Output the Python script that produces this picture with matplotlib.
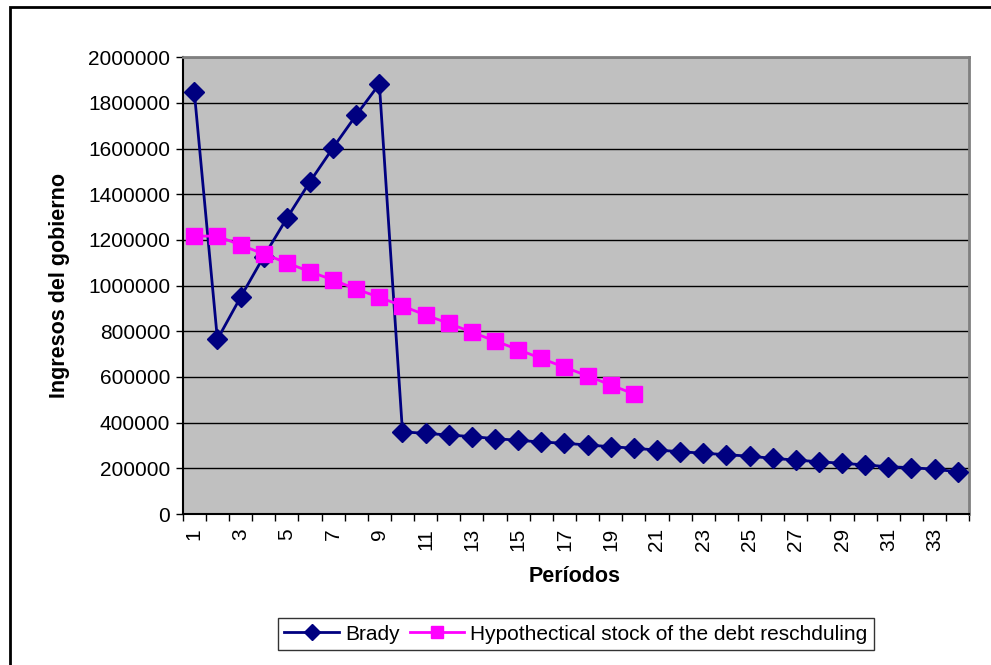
import matplotlib.pyplot as plt
from matplotlib.patches import Rectangle

plt.rcParams['font.family'] = ['Liberation Sans', 'DejaVu Sans']

# Data lest av fra figuren
perioder = list(range(1, 35))
brady = [1850000, 765000, 949000, 1127000, 1295000, 1455000, 1604000, 1747000, 1883000,
         360000, 353000, 346000, 339000, 330000, 323000, 315000, 310000, 302000, 295000,
         288000, 280000, 273000, 266000, 260000, 253000, 244000, 236000, 229000, 222000,
         215000, 207000, 203000, 196000, 185000]
hyp_perioder = list(range(1, 21))
hypotetisk = [1217000, 1217000, 1178000, 1139000, 1100000, 1061000, 1025000, 985000,
              949000, 911000, 871000, 835000, 796000, 758000, 720000, 681000, 643000,
              605000, 565000, 526000]
x_etiketter = [str(p) for p in range(1, 35, 2)]

fig = plt.figure(figsize=(9.91, 6.65), dpi=100)
ax = fig.add_axes([182.7/991, 1-514/665, (969.3-182.7)/991, (514-57.3)/665])
ax.set_facecolor('#c0c0c0')

ax.plot(perioder, brady, color='#000080', lw=2, marker='D', markersize=10,
        label='Brady', zorder=3)
ax.plot(hyp_perioder, hypotetisk, color='#ff00ff', lw=2, marker='s', markersize=11.5,
        label='Hypothectical stock of the debt reschduling', zorder=3)

ax.set_xlim(0.5, 34.5)
ax.set_ylim(0, 2000000)
ax.set_yticks(range(0, 2000001, 200000))
ax.set_yticklabels([str(v) for v in range(0, 2000001, 200000)], fontsize=15)
ax.yaxis.grid(True, color='black', lw=1)
ax.set_axisbelow(True)

ax.set_xticks(range(1, 35, 2))
ax.set_xticklabels(x_etiketter, rotation=90, fontsize=15)
ax.set_xticks([p + 0.5 for p in range(0, 35)], minor=True)
ax.tick_params(axis='x', which='major', length=0, pad=10)
ax.tick_params(axis='x', which='minor', length=5, width=1)
ax.tick_params(axis='y', length=5, width=1, pad=4)

for s in ['top', 'right']:
    ax.spines[s].set_color('#808080')
    ax.spines[s].set_linewidth(2)
for s in ['left', 'bottom']:
    ax.spines[s].set_color('black')
    ax.spines[s].set_linewidth(1.5)

fig.text(575/991, 1-577/665, 'Períodos', ha='center', va='center',
         fontsize=15.5, fontweight='bold')
fig.text(60/991, 1-285/665, 'Ingresos del gobierno', ha='center', va='center',
         rotation=90, fontsize=15.5, fontweight='bold')

leg = fig.legend(loc='center', bbox_to_anchor=(576/991, 1-634/665), ncol=2,
                 fontsize=15, frameon=True, fancybox=False, edgecolor='black',
                 handlelength=2.6, handletextpad=0.3, columnspacing=0.5,
                 borderpad=0.3, borderaxespad=0, markerscale=0.8)
leg.get_frame().set_linewidth(1)

# Ramme rundt hele diagrammet
fig.patches.append(Rectangle((10/991, -0.1), 1.2, 1-7/665+0.1, transform=fig.transFigure,
                             fill=False, edgecolor='black', lw=2))

fig.savefig('out.png', dpi=100)
